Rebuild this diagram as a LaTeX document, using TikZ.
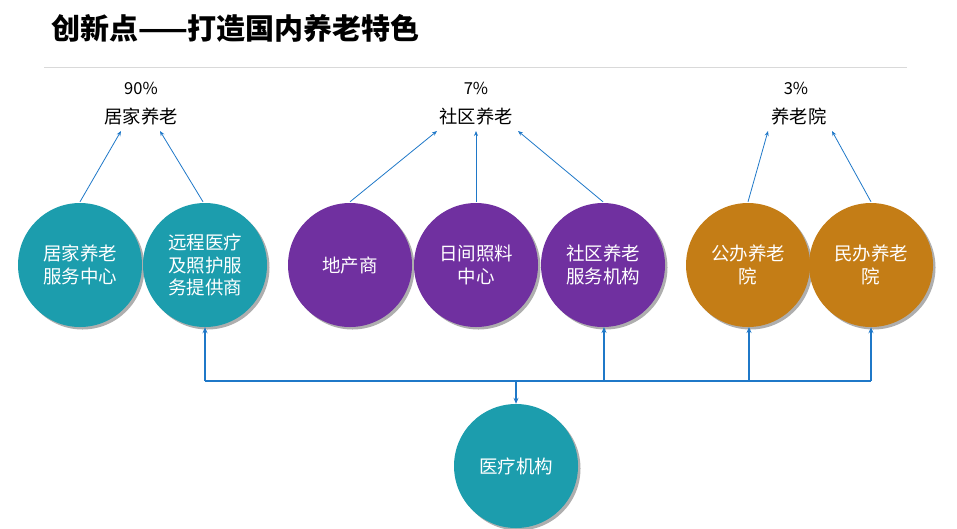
\documentclass[tikz,border=0pt]{standalone}
\usepackage{fontspec}
\setmainfont{Noto Sans CJK SC}
\usetikzlibrary{shadows,arrows.meta}
\definecolor{tealc}{HTML}{1C9DAD}
\definecolor{purplec}{HTML}{7030A0}
\definecolor{orangec}{HTML}{C47D16}
\definecolor{arrowc}{HTML}{1F78C8}
\tikzset{
  circ/.style={circle, minimum size=124pt, inner sep=0pt, text=white, font=\fontsize{18.5}{22.5}\selectfont, align=center,
    drop shadow={shadow xshift=2.5pt, shadow yshift=-2.5pt, opacity=0.45, fill=black!70}},
  tealn/.style={circ, fill=tealc},
  purpn/.style={circ, fill=purplec},
  orgn/.style={circ, fill=orangec},
  lbl/.style={font=\fontsize{18.3}{20}\selectfont, inner sep=0pt},
  pct/.style={font=\fontsize{16.5}{20}\selectfont, inner sep=0pt},
  arr/.style={draw=arrowc, line width=0.8pt, -{Stealth[length=5pt,width=4pt]}},
  conn/.style={draw=arrowc, line width=1.2pt},
  uparr/.style={conn, -{Stealth[length=6pt,width=5pt]}},
}
\begin{document}
\begin{tikzpicture}[x=1pt,y=-1pt]
\useasboundingbox (0,0) rectangle (957,528);
% title
\node[anchor=west, inner sep=0pt, font=\fontsize{29}{32}\selectfont\bfseries] (title) at (51,28) {创新点——打造国内养老特色};
\draw[black!15, line width=1pt] (44,67) coordinate (l1) -- (907,67) coordinate (l2);
% top labels
\node[pct] (p1) at (141,88) {90\%};
\node[lbl] (g1) at (141,117) {居家养老};
\node[pct] (p2) at (476,88) {7\%};
\node[lbl] (g2) at (476,117) {社区养老};
\node[pct] (p3) at (796,88) {3\%};
\node[lbl] (g3) at (799,117) {养老院};
% circles
\node[tealn] (c1) at (80,265) {居家养老\\服务中心};
\node[tealn] (c2) at (205,265) {远程医疗\\及照护服\\务提供商};
\node[purpn] (c3) at (350,265) {地产商};
\node[purpn] (c4) at (476,265) {日间照料\\中心};
\node[purpn] (c5) at (603,265) {社区养老\\服务机构};
\node[orgn] (c6) at (748,265) {公办养老\\院};
\node[orgn] (c7) at (871,265) {民办养老\\院};
\node[tealn] (c8) at (516,466) {医疗机构};
% arrows to categories
\coordinate (a1) at (121,131);
\coordinate (a2) at (160,131);
\coordinate (a3) at (437,131);
\coordinate (a4) at (476,131);
\coordinate (a5) at (518,131);
\coordinate (a6) at (768,131);
\coordinate (a7) at (832,131);
\draw[arr] (c1.north) ++(0,-1) -- (a1);
\draw[arr] (c2.north) ++(-2,-1) -- (a2);
\draw[arr] (c3.north) ++(0,-1) -- (a3);
\draw[arr] (c4.north) ++(0,-1) -- (a4);
\draw[arr] (c5.north) ++(0,-1) -- (a5);
\draw[arr] (c6.north) ++(0,-1) -- (a6);
\draw[arr] (c7.north) ++(0,-1) -- (a7);
% bottom bus
\coordinate (b2) at (205,381);
\coordinate (b5) at (604,381);
\coordinate (b6) at (749,381);
\coordinate (b7) at (871,381);
\coordinate (bm) at (516,381);
\coordinate (t5) at (604,327);
\coordinate (t6) at (749,327);
\draw[conn] (b2) -- (b7);
\draw[uparr] (b2) -- (c2.south);
\draw[uparr] (b5) -- (t5);
\draw[uparr] (b6) -- (t6);
\draw[uparr] (b7) -- (c7.south);
\draw[uparr] (bm) -- (c8.north);
\end{tikzpicture}
\end{document}
